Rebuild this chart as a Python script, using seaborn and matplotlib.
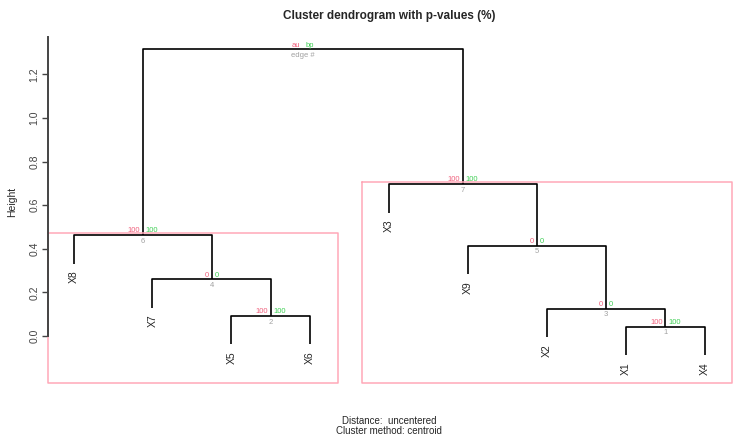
import numpy as np
import matplotlib
matplotlib.use("Agg")
import matplotlib.pyplot as plt
import seaborn as sns

# leaves, in plotting order
leaf_order = ["X8", "X7", "X5", "X6", "X3", "X9", "X2", "X1", "X4"]

# hclust-style merges: leaf name, or number of an earlier edge
merge_left = ["X1", "X5", "X2", "X7", "X9", "X8", "X3", 6]
merge_right = ["X4", "X6", 1, 2, 3, 4, 5, 7]
merge_height = [0.043, 0.092, 0.125, 0.260, 0.414, 0.463, 0.697, 1.315]

# p-values (%) per edge (edge 1..7), the top edge shows the legend instead
au_values = [100, 100, 0, 0, 0, 100, 100]
bp_values = [100, 100, 0, 0, 0, 100, 100]

# clusters highlighted by pvrect (leaf ranges in plotting order)
rect_clusters = [["X8", "X6"], ["X3", "X4"]]
rect_edges = [6, 7]

hang = 0.1 * max(merge_height)

sns.set_style("white")
plt.rcParams["font.family"] = ["Liberation Sans", "DejaVu Sans"]

fig = plt.figure(figsize=(7.38, 4.43), dpi=100)
ax = fig.add_axes([48.3 / 738, 1 - 367.4 / 443, (730 - 48.3) / 738, (367.4 - 37.1) / 443])

xpos = {name: i + 1 for i, name in enumerate(leaf_order)}
node_x = {}

au_col = "#F0607C"
bp_col = "#3FCF55"
edge_col = "#A0A0A0"
lw = 1.2


def child_pos(c, h):
    if isinstance(c, str):
        return xpos[c], h - hang, True
    return node_x[c], merge_height[c - 1], False


for k, (l, r, h) in enumerate(zip(merge_left, merge_right, merge_height), start=1):
    xl, yl, leaf_l = child_pos(l, h)
    xr, yr, leaf_r = child_pos(r, h)
    ax.plot([xl, xl, xr, xr], [yl, h, h, yr], color="black", lw=lw, solid_capstyle="butt")
    for c, xc, yc, is_leaf in [(l, xl, yl, leaf_l), (r, xr, yr, leaf_r)]:
        if is_leaf:
            ax.annotate(c, (xc, yc), xytext=(0, -5), textcoords="offset points",
                        rotation=90, ha="center", va="top", fontsize=7.5)
    xm = (xl + xr) / 2
    node_x[k] = xm
    if k <= len(au_values):
        au_txt, bp_txt, ed_txt = str(au_values[k - 1]), str(bp_values[k - 1]), str(k)
    else:
        au_txt, bp_txt, ed_txt = "au", "bp", "edge #"
    ax.annotate(au_txt, (xm, h), xytext=(-2, 0.5), textcoords="offset points",
                ha="right", va="bottom", fontsize=5.5, color=au_col)
    ax.annotate(bp_txt, (xm, h), xytext=(2, 0.5), textcoords="offset points",
                ha="left", va="bottom", fontsize=5.5, color=bp_col)
    ax.annotate(ed_txt, (xm, h), xytext=(0, -2), textcoords="offset points",
                ha="center", va="top", fontsize=5.5, color=edge_col)

# y limits like R: range of heights incl. hanging leaves, expanded 4%
ymin = min(merge_height) - hang
ymax = max(merge_height)
pad = 0.04 * (ymax - ymin)
ylo, yhi = ymin - pad, ymax + pad
n = len(leaf_order)
xpad = 0.04 * (n - 1)
ax.set_xlim(1 - xpad, n + xpad)
ax.set_ylim(ylo, yhi)

# pvrect boxes
for (a, b), e in zip(rect_clusters, rect_edges):
    x0 = max(xpos[a] - 0.35, 1 - xpad)
    x1 = min(xpos[b] + 0.35, n + xpad + 0.02)
    y1 = merge_height[e - 1] + 0.01
    y0 = ylo - 0.07
    ax.plot([x0, x0, x1, x1, x0], [y1, y0, y0, y1, y1], color="#FFA8B8", lw=1.1,
            clip_on=False)

for s in ["top", "right", "bottom"]:
    ax.spines[s].set_visible(False)
ax.spines["left"].set_bounds(0, yhi)
ax.spines["left"].set_color("#444444")
ax.spines["left"].set_linewidth(1.4)
ax.set_xticks([])
ax.set_yticks(np.arange(0, 1.3, 0.2))
ax.set_yticklabels([f"{v:.1f}" for v in np.arange(0, 1.3, 0.2)], rotation=90, va="center",
                   fontsize=7.5, color="#444444")
ax.tick_params(axis="y", left=True, length=4, width=1, color="#444444", pad=2.5)
ax.set_ylabel("Height", fontsize=7.5, labelpad=9)

fig.text(389 / 738, 1 - 16 / 443, "Cluster dendrogram with p-values (%)",
         ha="center", va="center", fontsize=8.5, fontweight="bold")
fig.text(389 / 738, 1 - 421.5 / 443, "Distance:  uncentered", ha="center", va="center", fontsize=7)
fig.text(389 / 738, 1 - 431.5 / 443, "Cluster method: centroid", ha="center", va="center", fontsize=7)

fig.savefig("out.png", dpi=100)
